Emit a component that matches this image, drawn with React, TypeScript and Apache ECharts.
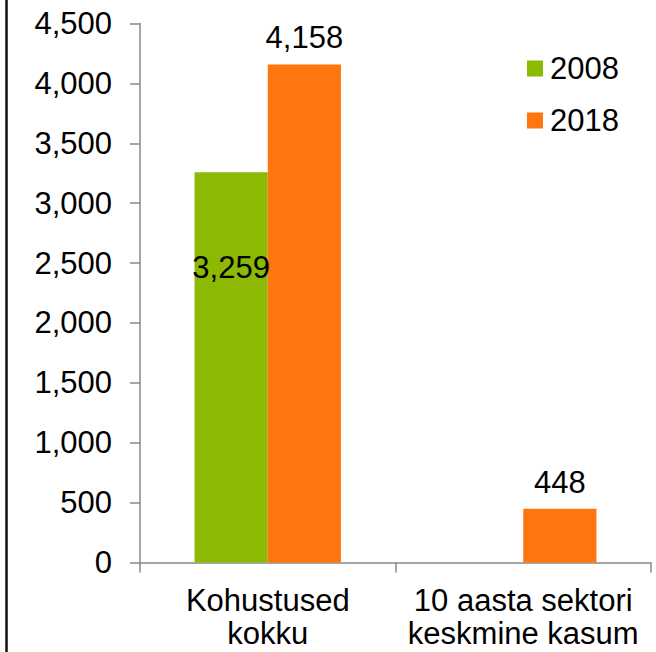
import React, { useEffect, useRef } from "react";
import * as echarts from "echarts";

const categories = ["Kohustused\nkokku", "10 aasta sektori\nkeskmine kasum"];
const seriesNames = ["2008", "2018"];
const values2008: (number | null)[] = [3259, null];
const values2018: (number | null)[] = [4158, 448];
const yMin = 0;
const yMax = 4500;
const yInterval = 500;

const GREEN = "#8CB903";
const ORANGE = "#FF750E";
const AXIS = "#898989";
const FONT = "Liberation Sans, Arial, sans-serif";

const fmt = (v: number) => v.toLocaleString("en-US");

export default function App() {
  const ref = useRef<HTMLDivElement>(null);
  useEffect(() => {
    if (!ref.current) return;
    const chart = echarts.init(ref.current, undefined, { renderer: "svg" });
    chart.setOption({
      animation: false,
      backgroundColor: "#ffffff",
      textStyle: { fontFamily: FONT },
      grid: { left: 140, right: 5, top: 23.5, bottom: 89.5, containLabel: false },
      legend: {
        orient: "vertical",
        left: 522,
        top: 48,
        itemWidth: 16,
        itemHeight: 16,
        itemGap: 21,
        icon: "rect",
        data: seriesNames,
        textStyle: { fontSize: 31, color: "#000", fontFamily: FONT, padding: [0, 0, 0, 2] },
      },
      xAxis: {
        type: "category",
        data: categories,
        axisLine: { lineStyle: { color: AXIS, width: 1.5 } },
        axisTick: { show: true, length: 10, alignWithLabel: false, lineStyle: { color: AXIS, width: 1.5 } },
        axisLabel: {
          interval: 0,
          fontSize: 31,
          lineHeight: 33,
          color: "#000",
          fontFamily: FONT,
          margin: 21,
        },
      },
      yAxis: {
        type: "value",
        min: yMin,
        max: yMax,
        interval: yInterval,
        splitLine: { show: false },
        axisLine: { show: true, lineStyle: { color: AXIS, width: 1.5 } },
        axisTick: { show: true, length: 10, lineStyle: { color: AXIS, width: 1.5 } },
        axisLabel: {
          fontSize: 31,
          color: "#000",
          fontFamily: FONT,
          margin: 28,
          formatter: (v: number) => fmt(v),
        },
      },
      series: [
        {
          name: seriesNames[0],
          type: "bar",
          data: values2008,
          barGap: "0%",
          barCategoryGap: "42.7%",
          itemStyle: { color: GREEN },
          label: {
            show: true,
            position: ["50%", 95.5],
            align: "center",
            verticalAlign: "middle",
            fontSize: 31,
            color: "#000",
            fontFamily: FONT,
            formatter: (p: any) => fmt(p.value),
          },
        },
        {
          name: seriesNames[1],
          type: "bar",
          data: values2018,
          barGap: "0%",
          barCategoryGap: "42.7%",
          itemStyle: { color: ORANGE },
          label: {
            show: true,
            position: "top",
            distance: 11,
            fontSize: 31,
            color: "#000",
            fontFamily: FONT,
            formatter: (p: any) => fmt(p.value),
          },
        },
      ],
      graphic: [
        {
          type: "line",
          shape: { x1: 6.5, y1: 0, x2: 6.5, y2: 652 },
          style: { stroke: "#111", lineWidth: 2.5 },
        },
      ],
    });
    return () => chart.dispose();
  }, []);
  return (
    <div
      ref={ref}
      style={{ position: "absolute", left: 0, top: 0, width: 656, height: 652 }}
    />
  );
}
